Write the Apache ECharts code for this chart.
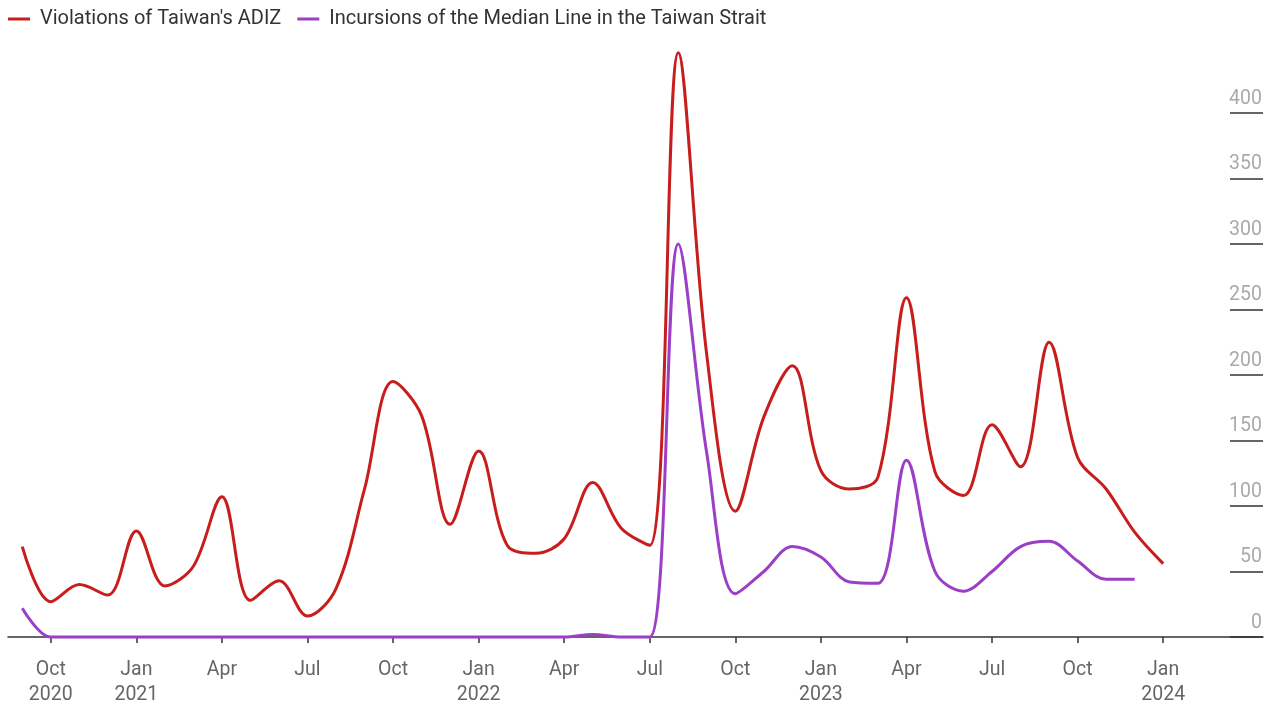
<!DOCTYPE html>
<html><head><meta charset="utf-8">
<script src="https://cdn.jsdelivr.net/npm/echarts@6/dist/echarts.min.js"></script>
<style>html,body{margin:0;padding:0;background:#fff}#c{width:1278px;height:707px}</style>
</head><body><div id="c"></div>
<script>
const monthNames = ['Jan','Feb','Mar','Apr','May','Jun','Jul','Aug','Sep','Oct','Nov','Dec'];
const categories = [
  '2020-09','2020-10','2020-11','2020-12',
  '2021-01','2021-02','2021-03','2021-04','2021-05','2021-06','2021-07','2021-08','2021-09','2021-10','2021-11','2021-12',
  '2022-01','2022-02','2022-03','2022-04','2022-05','2022-06','2022-07','2022-08','2022-09','2022-10','2022-11','2022-12',
  '2023-01','2023-02','2023-03','2023-04','2023-05','2023-06','2023-07','2023-08','2023-09','2023-10','2023-11','2023-12',
  '2024-01','2024-02','2024-03','2024-04'
];
const adizViolations = [
  69, 27, 40, 32,
  81, 39, 54, 107, 28, 43, 16, 37, 113, 195, 169, 86,
  142, 70, 64, 75, 118, 83, 70, 446, 215, 96, 168, 207,
  127, 113, 122, 259, 126, 108, 162, 130, 225, 137, 113, 80,
  56, null, null, null
];
const medianLineIncursions = [
  22, 0, 0, 0,
  0, 0, 0, 0, 0, 0, 0, 0, 0, 0, 0, 0,
  0, 0, 0, 0, 2, 0, 0, 300, 140, 33, 50, 69,
  61, 42, 41, 135, 50, 35, 50, 69, 73, 58, 44, 44,
  null, null, null, null
];
const seriesNames = ["Violations of Taiwan's ADIZ", 'Incursions of the Median Line in the Taiwan Strait'];
const quarterMonths = ['01','04','07','10'];
const lastTickCategory = '2024-01';

const chart = echarts.init(document.getElementById('c'), null, {renderer:'canvas'});
const isQuarter = (i, v) => quarterMonths.includes(String(v).slice(5)) && String(v) <= lastTickCategory;
chart.setOption({
  animation: false,
  textStyle: {fontFamily: 'Roboto'},
  color: ['#c71e1d', '#9b3fc6'],
  legend: {
    left: 8, top: 9, padding: 0, itemWidth: 22, itemHeight: 3, itemGap: 16, icon: 'rect',
    textStyle: {fontSize: 20, color: '#333', fontFamily: 'Roboto', padding: [0,0,0,5]},
    data: seriesNames
  },
  grid: {left: 8, right: 15, top: 113, bottom: 68, containLabel: false},
  xAxis: {
    type: 'category', data: categories, boundaryGap: true,
    axisLine: {lineStyle: {color: '#333', width: 1.5}},
    axisTick: {show: true, alignWithLabel: true, interval: isQuarter, length: 6, lineStyle: {color: '#333', width: 1.5}},
    axisLabel: {
      interval: isQuarter, color: '#666', fontSize: 19.5, lineHeight: 24.5, margin: 21, fontFamily: 'Roboto',
      formatter: (v, idx) => {
        const y = v.slice(0,4), m = v.slice(5);
        const name = monthNames[parseInt(m,10)-1];
        return (m === '01' || idx === 1) ? name + '\n' + y : name;
      }
    }
  },
  yAxis: {
    type: 'value', position: 'right', min: 0, max: 400, interval: 50,
    axisLine: {show: false}, splitLine: {show: false},
    axisTick: {show: true, inside: true, length: 33, lineStyle: {color: '#333', width: 1.5}},
    axisLabel: {inside: true, margin: 1, align: 'right', verticalAlign: 'bottom', padding: [0,0,4,0],
      color: '#aaa', fontSize: 19.5, fontFamily: 'Roboto'}
  },
  series: [
    {name: seriesNames[0], type: 'line', data: adizViolations, smooth: 0.35, symbol: 'none', clip: false,
      lineStyle: {width: 3}},
    {name: seriesNames[1], type: 'line', data: medianLineIncursions, smooth: 0.35, symbol: 'none', clip: false,
      lineStyle: {width: 3}}
  ]
});
</script></body></html>
